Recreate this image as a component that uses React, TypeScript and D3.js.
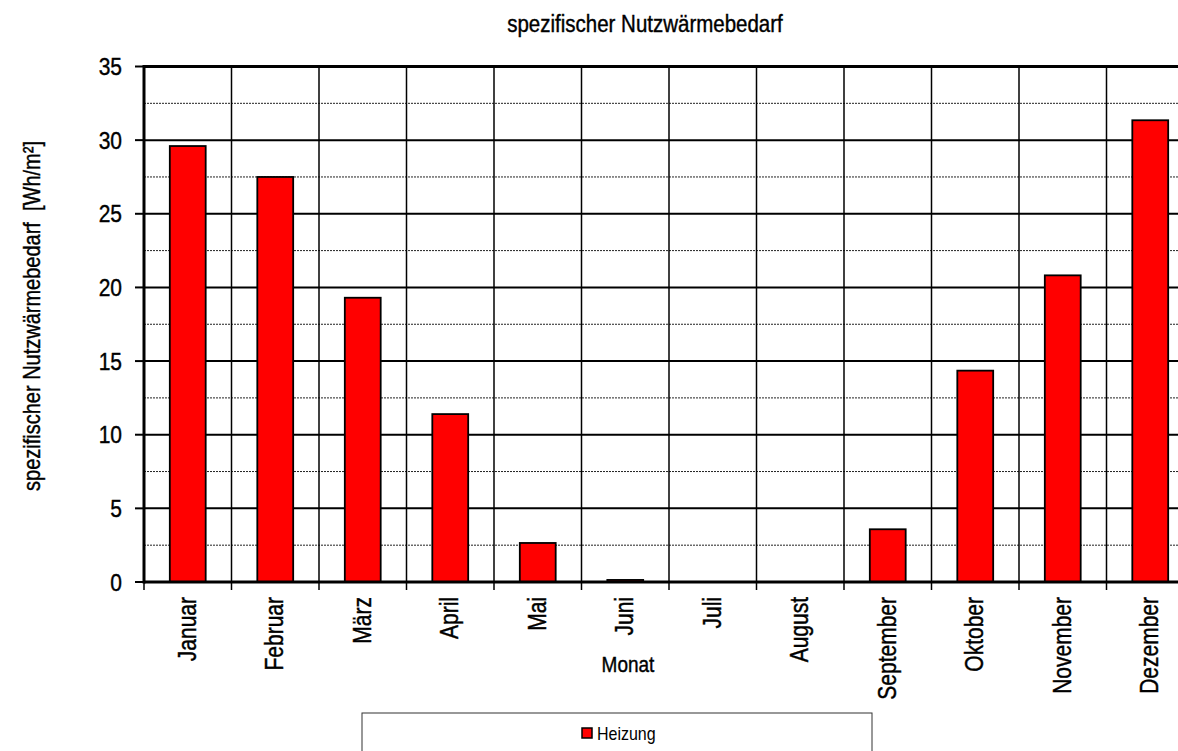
import React from "react";
import * as d3 from "d3";

const months = ["Januar","Februar","März","April","Mai","Juni","Juli","August","September","Oktober","November","Dezember"];
const heizung = [29.6, 27.5, 19.3, 11.4, 2.65, 0.14, 0, 0, 3.58, 14.35, 20.82, 31.35];
const majorTicks = [0, 5, 10, 15, 20, 25, 30, 35];
const minorTicks = [2.5, 7.5, 12.5, 17.5, 22.5, 27.5, 32.5];

const W = 1178, H = 751;
const left = 144, right = 1194, top = 66.5, bottom = 582;
const font = "'Liberation Sans', Arial, sans-serif";
const ts = { stroke: "#000", strokeWidth: 0.35 };

export default function App() {
  const x = d3.scaleBand<string>().domain(months).range([left, right]).paddingInner(0.59).paddingOuter(0.295);
  const y = d3.scaleLinear().domain([0, 35]).range([bottom, top]);
  const step = x.step();
  const bounds = d3.range(months.length + 1).map(i => left + i * step);
  return (
    <svg width={W} height={H} style={{ position: "absolute", left: 0, top: 0, background: "#fff" }} fontFamily={font}>
      <rect x={0} y={0} width={W} height={H} fill="#fff" />
      <text transform="translate(645,32) scale(1,1.15)" textAnchor="middle" fontSize={20.5} {...ts}>spezifischer Nutzwärmebedarf</text>
      {minorTicks.map(t => (
        <line key={"m" + t} x1={left} x2={right} y1={y(t)} y2={y(t)} stroke="#222" strokeWidth={1} strokeDasharray="2,1" />
      ))}
      {majorTicks.filter(t => t > 0 && t < 35).map(t => (
        <line key={"M" + t} x1={left} x2={right} y1={y(t)} y2={y(t)} stroke="#000" strokeWidth={2} />
      ))}
      {bounds.slice(1).map((b, i) => (
        <line key={"v" + i} x1={b} x2={b} y1={top} y2={bottom} stroke="#000" strokeWidth={1.5} />
      ))}
      {months.map((m, i) => (
        heizung[i] > 0 ? (
          <rect key={m} x={x(m)} y={y(heizung[i])} width={x.bandwidth()} height={y(0) - y(heizung[i])}
            fill="#ff0000" stroke="#000" strokeWidth={1.8} />
        ) : null
      ))}
      <line x1={left} x2={right} y1={top} y2={top} stroke="#000" strokeWidth={3} />
      <line x1={left} x2={left} y1={top - 1.5} y2={bottom + 1.5} stroke="#000" strokeWidth={3} />
      <line x1={left} x2={right} y1={bottom} y2={bottom} stroke="#000" strokeWidth={3} />
      {majorTicks.map(t => (
        <g key={"t" + t}>
          <line x1={135} x2={left} y1={y(t)} y2={y(t)} stroke="#000" strokeWidth={2} />
          <text transform={`translate(122,${y(t)}) scale(1,1.15)`} dy="0.36em" textAnchor="end" fontSize={21} {...ts}>{t}</text>
        </g>
      ))}
      {bounds.map((b, i) => (
        <line key={"xt" + i} x1={b} x2={b} y1={bottom} y2={590} stroke="#000" strokeWidth={1.5} />
      ))}
      {months.map(m => {
        const cx = (x(m) as number) + x.bandwidth() / 2;
        return (
          <text key={"l" + m} transform={`translate(${cx + 8},597) rotate(-90) scale(1,1.2)`} textAnchor="end" fontSize={21} {...ts}>{m}</text>
        );
      })}
      <text transform="translate(628,672) scale(1,1.2)" textAnchor="middle" fontSize={19} {...ts}>Monat</text>
      <text transform="translate(40,316) rotate(-90) scale(1,1.2)" textAnchor="middle" fontSize={20} xmlSpace="preserve" {...ts}>spezifischer Nutzwärmebedarf  [Wh/m²]</text>
      <rect x={362} y={713} width={510} height={60} fill="#fff" stroke="#333" strokeWidth={1} />
      <rect x={582} y={728} width={10} height={10} fill="#ff0000" stroke="#000" strokeWidth={1.5} />
      <text transform="translate(597,740) scale(1,1.2)" fontSize={16}>Heizung</text>
    </svg>
  );
}
